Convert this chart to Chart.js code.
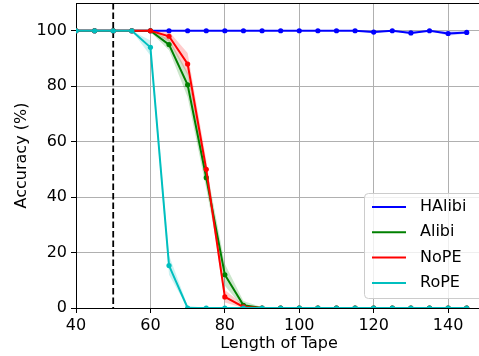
<!DOCTYPE html>
<html><head><meta charset="utf-8">
<script src="https://cdn.jsdelivr.net/npm/chart.js@4.4.1/dist/chart.umd.min.js"></script>
<style>html,body{margin:0;padding:0;background:#fff;overflow:hidden}#wrap{width:479px;height:356px}</style>
</head><body><div id="wrap"><canvas id="c" width="479" height="356"></canvas></div>
<script>
const lengths = [40,45,50,55,60,65,70,75,80,85,90,95,100,105,110,115,120,125,130,135,140,145];
const halibi   = [100,100,100,100,100,100,100,100,100,100,100,100,100,100,100,100,99.5,100,99.2,100,99,99.4];
const halibiLo = [100,100,100,100,100,100,100,100,100,100,100,100,100,100,100,100,99,100,98.6,100,98.2,99];
const halibiHi = [100,100,100,100,100,100,100,100,100,100,100,100,100,100,100,100,100,100,99.8,100,99.8,99.8];
const alibi    = [100,100,100,100,100,95,80.5,47,12,1,0,0,0,0,0,0,0,0,0,0,0,0];
const alibiLo  = [100,100,100,100,99.5,93,76,43,8,0,0,0,0,0,0,0,0,0,0,0,0,0];
const alibiHi  = [100,100,100,100,100,97,85,51,16,2.5,0.3,0,0,0,0,0,0,0,0,0,0,0];
const nope     = [100,100,100,100,100,98,88,50,4,0.4,0,0,0,0,0,0,0,0,0,0,0,0];
const nopeLo   = [100,100,100,100,100,96,84,47,2,0,0,0,0,0,0,0,0,0,0,0,0,0];
const nopeHi   = [100,100,100,100,100,99.7,92,53.5,6.5,1.2,0,0,0,0,0,0,0,0,0,0,0,0];
const rope     = [100,100,100,100,94,15.3,0,0,0,0,0,0,0,0,0,0,0,0,0,0,0,0];
const ropeLo   = [100,100,100,100,91,12,0,0,0,0,0,0,0,0,0,0,0,0,0,0,0,0];
const ropeHi   = [100,100,100,100,96.5,19,0.8,0,0,0,0,0,0,0,0,0,0,0,0,0,0,0];
const seriesNames = ['HAlibi','Alibi','NoPE','RoPE'];
const seriesColors = ['#0000ff','#008000','#ff0000','#00bfbf'];
const bandColors = ['rgba(0,0,255,0.2)','rgba(0,128,0,0.2)','rgba(255,0,0,0.2)','rgba(0,191,191,0.2)'];
const trainLength = 50;
const xTicks = [40,60,80,100,120,140];
const yTicks = [0,20,40,60,80,100];

const mains = [halibi, alibi, nope, rope];
const los = [halibiLo, alibiLo, nopeLo, ropeLo];
const his = [halibiHi, alibiHi, nopeHi, ropeHi];
const pts = arr => arr.map((v,i)=>({x:lengths[i], y:v}));

const datasets = [];
for (let s=0; s<4; s++) {
  datasets.push({label: seriesNames[s]+' hi', data: pts(his[s]), borderWidth:0, pointRadius:0,
    fill:'+1', backgroundColor: bandColors[s], borderColor:'rgba(0,0,0,0)', order: 10+s*2});
  datasets.push({label: seriesNames[s]+' lo', data: pts(los[s]), borderWidth:0, pointRadius:0,
    fill:false, borderColor:'rgba(0,0,0,0)', order: 11+s*2});
}
for (let s=0; s<4; s++) {
  datasets.push({label: seriesNames[s], data: pts(mains[s]), borderColor: seriesColors[s],
    backgroundColor: seriesColors[s], borderWidth:2, pointRadius:2.6, pointHoverRadius:2.6,
    pointBorderWidth:0, fill:false, tension:0, order: 4-s});
}

const FONT = 'DejaVu Sans';
const extras = {
  id:'extras',
  beforeDatasetsDraw(chart){
    const {ctx, chartArea:a, scales:{x}} = chart;
    const px = x.getPixelForValue(trainLength);
    ctx.save();
    ctx.strokeStyle='#000'; ctx.lineWidth=1.8; ctx.setLineDash([6.5,3]);
    ctx.beginPath(); ctx.moveTo(px,a.top); ctx.lineTo(px,a.bottom); ctx.stroke();
    ctx.restore();
  },
  afterDraw(chart){
    const {ctx, chartArea:a} = chart;
    ctx.save();
    ctx.strokeStyle='#000'; ctx.lineWidth=1;
    ctx.beginPath(); ctx.moveTo(a.left, a.top+0.5); ctx.lineTo(a.right, a.top+0.5); ctx.stroke();
    ctx.fillStyle='#000'; ctx.font='16px "'+FONT+'"';
    ctx.textAlign='center'; ctx.textBaseline='middle';
    ctx.fillText('Length of Tape', 279, 344);
    ctx.translate(22, (a.top+a.bottom)/2); ctx.rotate(-Math.PI/2);
    ctx.fillText('Accuracy (%)', 0, 0);
    ctx.restore();
    ctx.save();
    const bx=364.5, by=193.5, bw=120, bh=105;
    ctx.beginPath(); ctx.roundRect(bx,by,bw,bh,4);
    ctx.fillStyle='rgba(255,255,255,0.8)'; ctx.fill();
    ctx.strokeStyle='#cccccc'; ctx.lineWidth=1; ctx.stroke();
    ctx.font='16px "'+FONT+'"'; ctx.textBaseline='middle'; ctx.textAlign='left';
    for (let s=0;s<4;s++){
      const yy = 207 + s*25.3;
      ctx.strokeStyle=seriesColors[s]; ctx.lineWidth=2;
      ctx.beginPath(); ctx.moveTo(372,yy); ctx.lineTo(406,yy); ctx.stroke();
      ctx.fillStyle='#000'; ctx.fillText(seriesNames[s], 420, yy);
    }
    ctx.restore();
  }
};

new Chart(document.getElementById('c'), {
  type:'line',
  data:{datasets},
  plugins:[extras],
  options:{
    responsive:false, animation:false, devicePixelRatio:1,
    layout:{autoPadding:false, padding:{top:3,left:0,right:0,bottom:0}},
    plugins:{legend:{display:false}, tooltip:{enabled:false}},
    scales:{
      x:{type:'linear', min:40, max:148.3,
        afterFit(s){ s.height = 48; s.paddingLeft = 0; s.paddingRight = 0; },
        afterBuildTicks(s){ s.ticks = xTicks.map(v=>({value:v})); },
        grid:{color:'#b0b0b0', lineWidth:1, tickLength:5, tickColor:'#000', drawTicks:true},
        border:{display:true, color:'#000', width:1},
        ticks:{font:{family:FONT,size:16}, color:'#000', padding:3, maxRotation:0, autoSkip:false}
      },
      y:{type:'linear', min:0, max:110,
        afterFit(s){ s.width = 76; s.paddingTop = 0; s.paddingBottom = 0; },
        afterBuildTicks(s){ s.ticks = yTicks.map(v=>({value:v})); },
        grid:{color:'#b0b0b0', lineWidth:1, tickLength:5, tickColor:'#000', drawTicks:true},
        border:{display:true, color:'#000', width:1},
        ticks:{font:{family:FONT,size:16}, color:'#000', padding:4}
      }
    }
  }
});
</script></body></html>
